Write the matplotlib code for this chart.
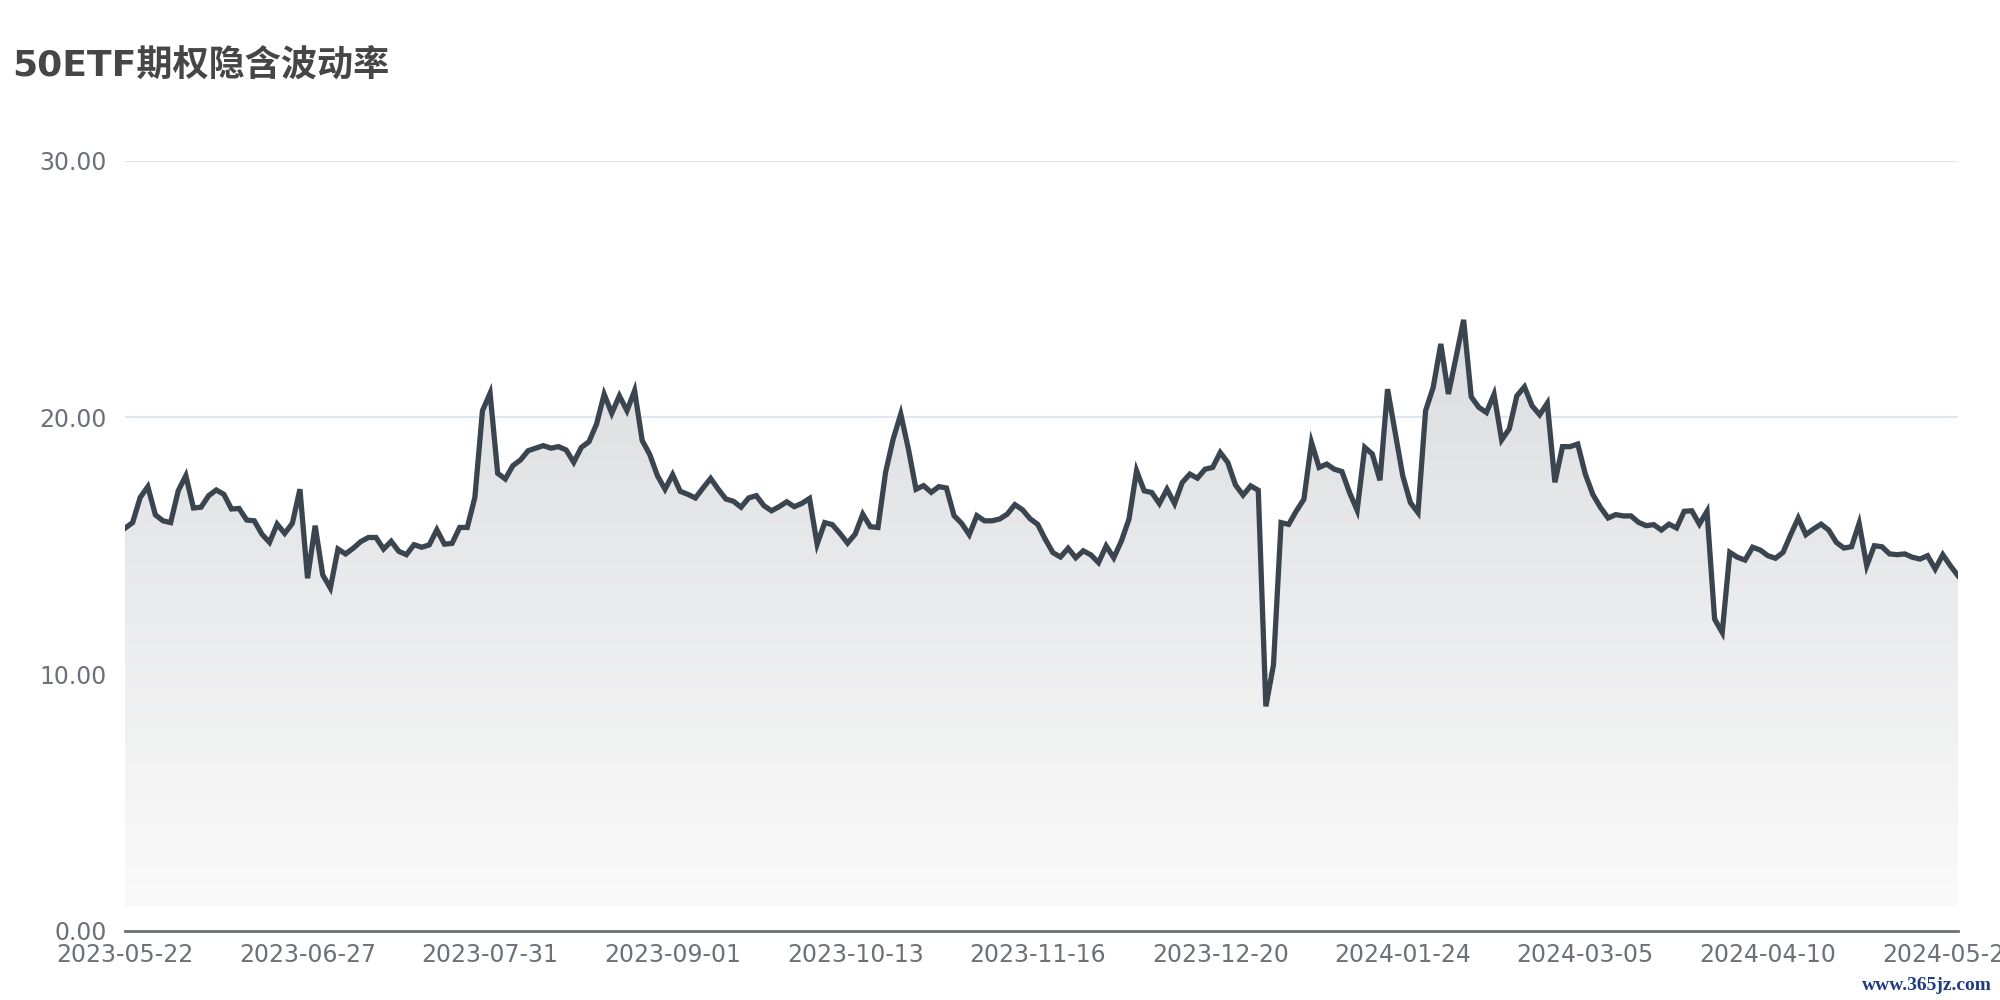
import matplotlib
matplotlib.use('Agg')
import matplotlib.pyplot as plt
import numpy as np
from matplotlib.colors import LinearSegmentedColormap


# =============================================================================
#  DATA  (one value per trading day)
# =============================================================================

iv = [
    15.68, 15.90, 16.88, 17.30, 16.20, 15.97, 15.90, 17.14, 17.73, 16.47,
    16.50, 16.95, 17.17, 17.00, 16.43, 16.45, 16.00, 15.97, 15.45, 15.13,
    15.84, 15.48, 15.87, 17.20, 13.73, 15.78, 13.86, 13.35, 14.87, 14.68,
    14.90, 15.16, 15.32, 15.32, 14.87, 15.17, 14.78, 14.65, 15.04, 14.94,
    15.03, 15.62, 15.06, 15.09, 15.71, 15.71, 16.88, 20.26, 20.94, 17.82,
    17.60, 18.12, 18.34, 18.70, 18.80, 18.90, 18.80, 18.86, 18.73, 18.25,
    18.83, 19.05, 19.74, 20.90, 20.16, 20.84, 20.26, 21.04, 19.10, 18.55,
    17.73, 17.20, 17.77, 17.12, 17.00, 16.86, 17.25, 17.62, 17.20, 16.82,
    16.73, 16.50, 16.86, 16.95, 16.56, 16.36, 16.52, 16.71, 16.52, 16.65,
    16.84, 15.06, 15.90, 15.82, 15.48, 15.10, 15.45, 16.23, 15.74, 15.71,
    17.86, 19.16, 20.13, 18.77, 17.20, 17.34, 17.08, 17.30, 17.25, 16.17,
    15.87, 15.43, 16.17, 15.97, 15.97, 16.04, 16.23, 16.60, 16.40, 16.05,
    15.83, 15.25, 14.73, 14.56, 14.90, 14.53, 14.80, 14.64, 14.34, 14.99,
    14.53, 15.18, 16.03, 17.92, 17.14, 17.07, 16.64, 17.20, 16.64, 17.46,
    17.79, 17.63, 17.98, 18.05, 18.63, 18.24, 17.37, 16.97, 17.33, 17.16,
    8.74, 10.36, 15.90, 15.83, 16.35, 16.81, 19.02, 18.05, 18.18, 17.98,
    17.89, 17.07, 16.38, 18.83, 18.57, 17.55, 21.10, 19.41, 17.72, 16.68,
    16.29, 20.26, 21.17, 22.86, 20.91, 22.34, 23.80, 20.80, 20.39, 20.19,
    20.90, 19.12, 19.55, 20.84, 21.19, 20.45, 20.10, 20.55, 17.47, 18.86,
    18.86, 18.96, 17.79, 16.99, 16.49, 16.08, 16.21, 16.16, 16.16, 15.91,
    15.78, 15.82, 15.61, 15.84, 15.69, 16.34, 16.36, 15.84, 16.34, 12.14,
    11.62, 14.74, 14.55, 14.44, 14.94, 14.83, 14.61, 14.51, 14.74, 15.43,
    16.08, 15.43, 15.65, 15.84, 15.61, 15.13, 14.91, 14.96, 15.87, 14.22,
    15.00, 14.96, 14.68, 14.65, 14.68, 14.55, 14.48, 14.61, 14.09, 14.65,
    14.22, 13.83,
]

tick_step = 24
tick_labels = [
    '2023-05-22', '2023-06-27', '2023-07-31', '2023-09-01', '2023-10-13',
    '2023-11-16', '2023-12-20', '2024-01-24', '2024-03-05', '2024-04-10',
    '2024-05-20',
]
y_ticks = [0, 10, 20, 30]

title = '50ETF期权隐含波动率'
watermark = 'www.365jz.com'


# =============================================================================
#  PLOT
# =============================================================================

LINE = '#3b4550'
GRID = '#e0e6f1'
AXIS = '#6e7079'

x = np.arange(len(iv))
y = np.array(iv)

fig = plt.figure(figsize=(20, 10), dpi=100)
fig.patch.set_facecolor('white')
ax = fig.add_axes([0.0625, 0.0693, 0.9165, 0.77])

# gradient area under the line
base = 0.93
fill = ax.fill_between(x, y, base, facecolor='none', edgecolor='none')
cmap = LinearSegmentedColormap.from_list('area', ['#fafafa', '#dcdde0'])
grad = np.linspace(0, 1, 256).reshape(-1, 1)
img = ax.imshow(grad, extent=[x[0], x[-1], base, y.max()], origin='lower',
                aspect='auto', cmap=cmap, zorder=1)
img.set_clip_path(fill.get_paths()[0], transform=ax.transData)

ax.plot(x, y, color=LINE, linewidth=3.8, solid_joinstyle='miter', zorder=3)

ax.set_xlim(0, len(iv) - 1)
ax.set_ylim(0, 30)

for v in y_ticks[1:]:
    ax.axhline(v, color=GRID, linewidth=1.5, zorder=0)

for s in ['top', 'right', 'left']:
    ax.spines[s].set_visible(False)
ax.spines['bottom'].set_color(AXIS)
ax.spines['bottom'].set_linewidth(2)
ax.spines['bottom'].set_zorder(4)

ax.set_yticks(y_ticks)
ax.set_yticklabels([f'{v:.2f}' for v in y_ticks])
ax.set_xticks(np.arange(0, len(tick_labels) * tick_step, tick_step))
ax.set_xticklabels(tick_labels)
ax.tick_params(axis='y', length=0, pad=13, labelsize=17, labelcolor=AXIS)
ax.tick_params(axis='x', length=0, pad=9, labelsize=17, labelcolor=AXIS)

fig.text(0.006, 0.935, title, fontsize=26, fontweight='bold', color='#464646',
         family=['DejaVu Sans', 'Noto Sans CJK SC'], va='center', ha='left')
fig.text(0.996, 0.015, watermark, fontsize=14, fontweight='bold',
         color='#1f3c80', family='Liberation Serif', ha='right', va='center')

fig.savefig('out.png', dpi=100, facecolor='white')
plt.close(fig)
